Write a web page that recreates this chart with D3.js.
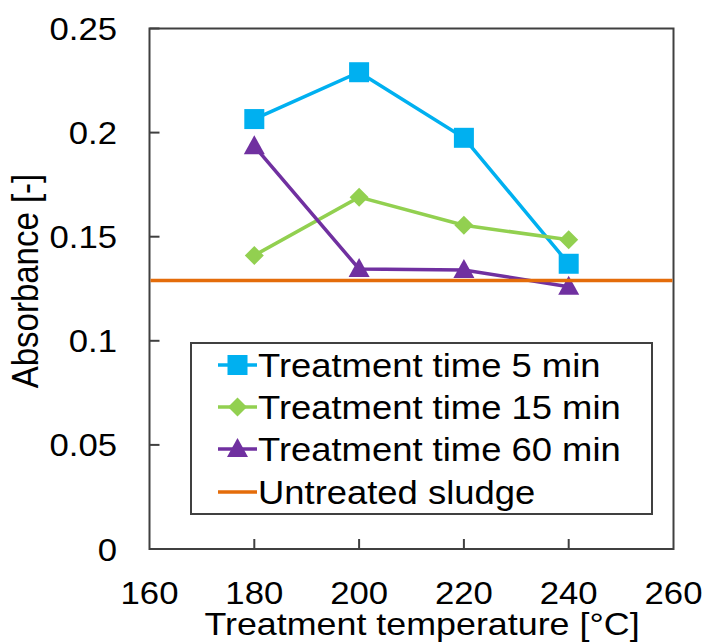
<!DOCTYPE html>
<html>
<head>
<meta charset="utf-8">
<script src="https://d3js.org/d3.v7.min.js"></script>
<style>
  body { margin: 0; background: #fff; }
  text { font-family: Arial, "Liberation Sans", sans-serif; fill: #000; }
</style>
</head>
<body>
<svg id="chart" width="708" height="644"></svg>
<script>
// data
const temps = [180, 200, 220, 240];
const time5 = [0.2065, 0.2290, 0.1975, 0.1370];
const time15 = [0.1410, 0.1690, 0.1555, 0.1485];
const time60 = [0.1935, 0.1345, 0.1340, 0.1260];
const untreated = 0.1290;
const xTicks = [160, 180, 200, 220, 240, 260];
const yTicks = [0, 0.05, 0.1, 0.15, 0.2, 0.25];
const yTickLabels = ["0", "0.05", "0.1", "0.15", "0.2", "0.25"];
const legendLabels = ["Treatment time 5 min", "Treatment time 15 min", "Treatment time 60 min", "Untreated sludge"];

const stretch = 1.12; // text in the picture is a little wider than tall

const svg = d3.select('#chart');
const pLeft = 149.5, pRight = 673.5, pTop = 28.5, pBottom = 549;
const x = d3.scaleLinear().domain([160, 260]).range([pLeft, pRight]);
const y = d3.scaleLinear().domain([0, 0.25]).range([pBottom, pTop]);

const frameColor = '#404040';

// frame
svg.append('rect')
  .attr('x', pLeft).attr('y', pTop)
  .attr('width', pRight - pLeft).attr('height', pBottom - pTop)
  .attr('fill', 'none').attr('stroke', frameColor).attr('stroke-width', 2);

// y ticks (inward)
svg.append('g').selectAll('line').data(yTicks).enter().append('line')
  .attr('x1', pLeft).attr('x2', pLeft + 10)
  .attr('y1', d => y(d)).attr('y2', d => y(d))
  .attr('stroke', frameColor).attr('stroke-width', 2);

svg.append('g').selectAll('text').data(yTicks).enter().append('text')
  .attr('transform', d => 'translate(117,' + (y(d) + 11.5) + ') scale(' + stretch + ',1)')
  .attr('text-anchor', 'end')
  .style('font-size', '31px')
  .text((d, i) => yTickLabels[i]);

// x ticks (inward)
svg.append('g').selectAll('line').data(xTicks.slice(1, -1)).enter().append('line')
  .attr('x1', d => x(d)).attr('x2', d => x(d))
  .attr('y1', pBottom).attr('y2', pBottom - 10)
  .attr('stroke', frameColor).attr('stroke-width', 2);

svg.append('g').selectAll('text').data(xTicks).enter().append('text')
  .attr('transform', d => 'translate(' + x(d) + ',604) scale(' + stretch + ',1)')
  .attr('text-anchor', 'middle')
  .style('font-size', '31px')
  .text(d => d);

// axis titles
svg.append('text')
  .attr('transform', 'translate(422,635) scale(' + stretch + ',1)')
  .attr('text-anchor', 'middle')
  .style('font-size', '32px')
  .text('Treatment temperature [°C]');

svg.append('text')
  .attr('transform', 'translate(38,281) scale(' + stretch + ',1) rotate(-90)')
  .attr('text-anchor', 'middle')
  .style('font-size', '33px')
  .text('Absorbance [-]');

const series = [
  {vals: time5, color: '#00b0f0', shape: 'square'},
  {vals: time15, color: '#92d050', shape: 'diamond'},
  {vals: time60, color: '#7030a0', shape: 'triangle'}
];

function marker(g, shape, color) {
  if (shape === 'square') {
    g.append('rect').attr('x', -10).attr('y', -10).attr('width', 20).attr('height', 20).attr('fill', color);
  } else if (shape === 'diamond') {
    g.append('path').attr('d', 'M0,-9.5L9.5,0L0,9.5L-9.5,0Z').attr('fill', color);
  } else {
    g.append('path').attr('d', 'M0,-11L10.5,8L-10.5,8Z').attr('fill', color);
  }
}

const line = d3.line().x((d, i) => x(temps[i])).y(d => y(d));

series.forEach(s => {
  svg.append('path').datum(s.vals)
    .attr('d', line)
    .attr('fill', 'none').attr('stroke', s.color).attr('stroke-width', 3.5);
  svg.append('g').selectAll('g').data(s.vals).enter().append('g')
    .attr('transform', (d, i) => 'translate(' + x(temps[i]) + ',' + y(d) + ')')
    .each(function () { marker(d3.select(this), s.shape, s.color); });
});

// untreated sludge reference
svg.append('line')
  .attr('x1', pLeft + 1).attr('x2', pRight - 1)
  .attr('y1', y(untreated)).attr('y2', y(untreated))
  .attr('stroke', '#e46c0a').attr('stroke-width', 3.5);

// legend
const lg = svg.append('g');
lg.append('rect')
  .attr('x', 191).attr('y', 343).attr('width', 461).attr('height', 171)
  .attr('fill', '#fff').attr('stroke', frameColor).attr('stroke-width', 2);

const rowY = [365, 407, 449, 492];
const legendColors = ['#00b0f0', '#92d050', '#7030a0', '#e46c0a'];
const legendShapes = ['square', 'diamond', 'triangle', null];

legendLabels.forEach((lab, i) => {
  const row = lg.append('g').attr('transform', 'translate(0,' + rowY[i] + ')');
  row.append('line').attr('x1', 218).attr('x2', 257).attr('y1', 0).attr('y2', 0)
    .attr('stroke', legendColors[i]).attr('stroke-width', 3.5);
  if (legendShapes[i]) {
    const m = row.append('g').attr('transform', 'translate(237.5,0)');
    marker(m, legendShapes[i], legendColors[i]);
  }
  row.append('text')
    .attr('transform', 'translate(258,11.7) scale(' + stretch + ',1)')
    .style('font-size', '32.5px')
    .text(lab);
});
</script>
</body>
</html>
